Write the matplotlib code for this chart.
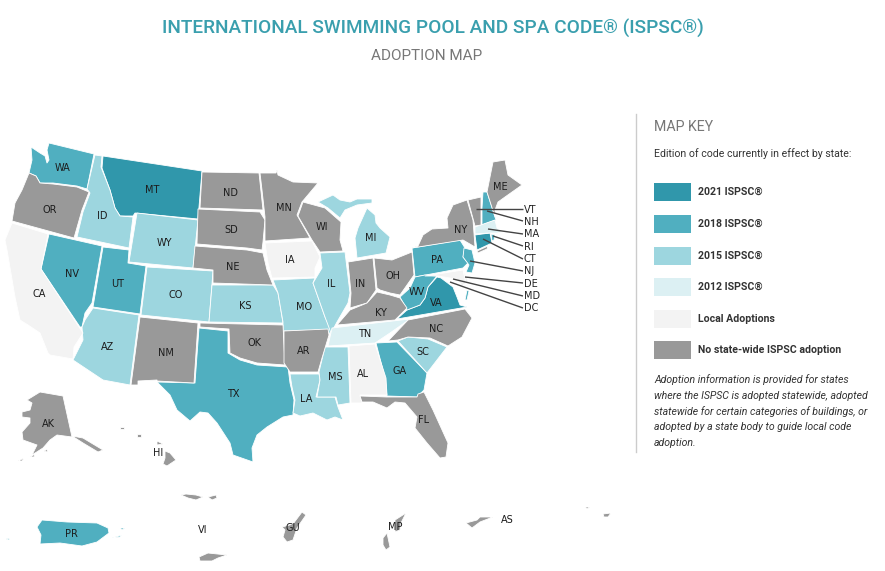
import matplotlib
matplotlib.use("Agg")
import matplotlib.pyplot as plt
from matplotlib.patches import Polygon

TITLE = "INTERNATIONAL SWIMMING POOL AND SPA CODE® (ISPSC®)"
SUBTITLE = "ADOPTION MAP"
KEY_TITLE = "MAP KEY"
KEY_INTRO = "Edition of code currently in effect by state:"
KEY_LABELS = ["2021 ISPSC®", "2018 ISPSC®", "2015 ISPSC®", "2012 ISPSC®", "Local Adoptions", "No state-wide ISPSC adoption"]
KEY_NOTE = ["Adoption information is provided for states", "where the ISPSC is adopted statewide, adopted",
            "statewide for certain categories of buildings, or", "adopted by a state body to guide local code", "adoption."]

ED_2021 = ["MT", "VA", "CT"]
ED_2018 = ["WA", "NV", "UT", "TX", "GA", "PA", "WV", "NH", "NJ", "PR", "RI", "VAES", "PR2", "PR3", "PR4"]
ED_2015 = ["ID", "WY", "CO", "AZ", "KS", "MO", "IL", "MI", "MIU", "LA", "MS", "SC"]
ED_2012 = ["TN", "MA"]
ED_LOCAL = ["CA", "IA", "AL", "MD", "DE"]
ED_NONE = ["OR", "ND", "SD", "NE", "NM", "OK", "AR", "MN", "WI", "IN", "OH", "KY", "NC", "FL", "NY", "NYLI", "VT", "ME",
           "AK", "AKP", "AK1", "AK2", "AK3", "HI", "HI1", "HI2", "HI3", "T1", "T2", "VIB", "GU", "MP", "MP2", "AS", "AS1", "AS2"]

# outlines of the territories
WA = [(31,147),(40,153),(45,156),(47,163),(49,160),(47,150),(49,143),(94,154),(87,189),(77,186),(53,183),(40,183),(36,176),(29,173),(32,160)]
OR = [(29,173),(36,176),(40,183),(53,184),(77,187),(89,192),(82,210),(74,238),(12,221),(15,203),(22,190)]
CA = [(12,223),(48,234),(41,269),(83,333),(74,347),(73,359),(50,355),(48,353),(40,333),(28,325),(20,320),(15,297),(7,250),(5,240)]
NV = [(49,234),(102,246),(92,303),(85,313),(82,327),(80,327),(41,269)]
ID = [(95,155),(102,156),(101,167),(110,190),(115,208),(120,216),(133,217),(129,248),(77,237),(83,212),(90,193),(87,189)]
MT = [(103,156),(202,171),(198,219),(135,213),(133,216),(120,216),(115,208),(110,190),(102,168)]
WY = [(137,213),(198,220),(193,268),(129,262)]
UT = [(103,247),(129,250),(128,263),(146,266),(140,314),(93,307)]
AZ = [(93,308),(139,315),(130,385),(103,380),(73,360),(83,340),(82,327),(85,320)]
CO = [(147,267),(213,271),(209,322),(141,315)]
NM = [(140,317),(198,323),(194,383),(157,381),(157,380),(138,381),(138,385),(131,385)]
TX = [(199,328),(228,331),(228,353),(240,360),(257,365),(288,367),(290,383),(294,400),(293,415),(283,417),(267,427),(257,435),
      (252,448),(253,462),(233,455),(230,443),(217,423),(208,413),(200,412),(190,421),(177,410),(170,395),(157,382),(195,383)]
OK = [(200,323),(283,325),(285,365),(257,363),(240,358),(230,353),(229,329),(200,327)]
KS = [(212,285),(273,285),(278,293),(283,323),(209,322)]
NE = [(195,246),(247,250),(263,253),(267,270),(273,285),(213,283),(213,270),(193,268)]
SD = [(198,209),(260,212),(265,220),(263,242),(262,250),(247,248),(197,244)]
ND = [(202,172),(259,173),(263,210),(200,208)]
MN = [(260,173),(276,173),(277,170),(278,175),(293,182),(318,183),(302,202),(297,215),(310,238),(265,241),(265,217),(262,190)]
IA = [(265,243),(312,241),(320,257),(315,268),(315,277),(272,278),(268,263)]
WI = [(303,202),(325,208),(341,222),(340,240),(343,251),(320,252),(312,240),(298,216)]
IL = [(320,253),(345,252),(350,293),(348,303),(337,322),(331,333),(325,317),(313,283),(322,268)]
MO = [(273,280),(315,278),(313,283),(325,317),(331,330),(333,328),(330,334),(327,330),(283,331),(283,322),(278,293)]
AR = [(284,331),(328,329),(329,335),(322,358),(318,372),(290,372),(284,363)]
LA = [(290,374),(319,374),(320,380),(316,397),(335,397),(338,407),(343,420),(335,417),(327,420),(313,413),(300,416),(293,413),(295,400),(292,387)]
MS = [(325,347),(348,347),(350,403),(338,405),(336,397),(317,397),(320,380),(319,372)]
TN = [(332,328),(410,319),(390,333),(375,343),(328,346)]
AL = [(349,346),(375,344),(386,378),(387,395),(360,395),(362,403),(351,403)]
GA = [(376,343),(397,342),(427,373),(424,390),(417,397),(387,396),(385,378)]
SC = [(398,341),(408,337),(428,339),(447,347),(427,373)]
FL = [(360,396),(387,397),(417,397),(418,394),(424,392),(433,410),(448,443),(446,457),(440,458),(427,443),(415,428),(417,417),(405,403),
      (395,402),(387,408),(373,402),(362,402)]
NC = [(388,341),(408,320),(465,309),(472,318),(462,337),(448,346),(430,338),(408,337),(398,340)]
VA = [(397,319),(407,310),(420,305),(425,298),(428,287),(437,277),(441,278),(453,287),(457,297),(460,305),(467,307)]
VAES = [(467,290),(469,291),(467,300),(465,300)]
WV = [(400,297),(410,288),(415,277),(425,275),(437,276),(428,287),(425,298),(420,305),(407,310)]
PA = [(412,248),(460,240),(465,248),(463,257),(468,263),(463,268),(415,277)]
OH = [(374,258),(392,260),(412,252),(414,275),(400,295),(390,293),(380,290),(377,288)]
IN = [(348,262),(373,258),(376,290),(367,303),(350,308),(351,293)]
KY = [(337,325),(350,310),(367,303),(377,292),(390,295),(400,298),(407,308),(395,320)]
MI = [(357,258),(355,238),(358,228),(367,208),(375,215),(376,223),(380,228),(390,237),(386,253)]
MIU = [(318,202),(333,195),(340,200),(350,202),(357,199),(372,199),(372,203),(357,205),(345,210),(340,218),(328,208)]
NY = [(418,246),(423,235),(432,229),(448,228),(447,218),(453,205),(467,200),(473,220),(475,247),(463,240),(412,248)]
NYLI = [(477,251),(488,246),(487,249),(478,253)]
VT = [(468,200),(481,197),(481,225),(475,226)]
NH = [(483,192),(487,192),(496,220),(482,225),(482,208)]
ME = [(493,162),(505,160),(508,175),(522,185),(505,197),(498,202),(495,210),(495,217),(487,192)]
MA = [(475,227),(495,220),(497,228),(502,232),(497,233),(490,233),(475,234)]
CT = [(475,235),(490,233),(492,243),(477,250)]
RI = [(491,234),(495,235),(494,240),(492,241)]
NJ = [(464,248),(472,250),(475,263),(472,273),(466,272),(469,265),(463,257)]
MD = [(425,276),(463,270),(466,283),(462,286),(458,280),(450,278),(438,276)]
DE = [(463,269),(468,280),(466,283)]
AK = [(27,400),(40,392),(63,396),(72,437),(57,435),(50,440),(43,448),(32,455),(37,445),(23,440),(22,432),(30,423),(30,418),(22,417),(22,412),(30,410),(32,403)]
AKP = [(72,436),(83,438),(103,450),(98,452),(83,443)]
AK1 = [(18,461),(24,458),(22,461)]
AK2 = [(30,457),(35,454),(34,457)]
AK3 = [(44,451),(48,449),(47,452)]
HI = [(165,451),(170,453),(176,460),(167,466),(163,464),(165,458)]
HI1 = [(120,427),(124,427),(124,429),(120,429)]
HI2 = [(137,434),(141,434),(141,437),(137,437)]
HI3 = [(157,441),(163,444),(157,445)]
T1 = [(181,495),(186,494),(196,495),(203,497),(196,500),(188,498)]
T2 = [(208,497),(216,495),(217,498),(212,500)]
PR = [(37,527),(42,520),(67,522),(97,523),(108,528),(109,533),(97,542),(82,546),(60,543),(40,544),(41,535)]
PR2 = [(120,528),(125,528),(122,530)]
PR3 = [(112,538),(122,535),(120,537)]
PR4 = [(6,539),(10,538),(9,540)]
VIB = [(199,557),(208,553),(227,555),(218,558),(212,561),(200,561)]
GU = [(302,512),(306,515),(297,528),(293,540),(287,542),(283,537),(285,530),(282,527),(293,524)]
MP = [(406,513),(401,523),(400,530),(395,532),(395,520)]
MP2 = [(387,533),(390,547),(386,550),(383,545),(383,538)]
AS = [(466,523),(477,520),(480,517),(493,517),(480,522),(472,528)]
AS1 = [(585,507),(590,507),(587,509)]
AS2 = [(603,514),(611,513),(608,517),(604,517)]

# state code labels
LABEL_NAMES = ["WA","MT","ND","MN","ME","OR","ID","WY","SD","WI","MI","NY","CA","NV","UT","CO","NE","IA","IL","IN","OH","PA",
               "WV","VA","KY","KS","MO","AZ","NM","OK","AR","TN","NC","SC","GA","AL","MS","LA","TX","FL","AK","HI","PR","VI","GU","MP","AS"]
LABEL_X = [63,152,231,284,500,50,102,164,231,322,371,461,39,72,118,176,233,290,331,360,393,437,
           417,436,381,245,304,108,166,254,304,365,436,423,400,363,335,306,233,424,48,158,71,203,293,395,507]
LABEL_Y = [168,190,193,208,187,210,216,243,230,227,238,230,294,274,284,295,267,260,284,284,276,260,
           292,303,313,306,307,347,353,343,351,334,329,352,371,374,377,399,394,420,424,453,534,530,528,527,520]
LEADER_NAMES = ["VT","NH","MA","RI","CT","NJ","DE","MD","DC"]
LEADER_STARTS = [(476,209),(487,211),(488,229),(493,236),(483,239),(470,261),(465,277),(453,279),(450,282)]
LEADER_ENDS = [(523,209),(523,221),(523,234),(523,246),(523,259),(523,271),(523,283),(523,296),(523,308)]
LEADER_Y = [210,222,234,247,259,271,284,296,308]

EDITION_GROUPS = [ED_2021, ED_2018, ED_2015, ED_2012, ED_LOCAL, ED_NONE]
COLORS = ["#3097ab", "#50afc0", "#9dd6df", "#dcf0f3", "#f3f3f3", "#999999"]

fig = plt.figure(figsize=(8.85, 5.71), dpi=100)
ax = fig.add_axes([0, 0, 1, 1])
ax.set_xlim(0, 885)
ax.set_ylim(571, 0)
ax.axis("off")

shapes = globals()
for group, color in zip(EDITION_GROUPS, COLORS):
    for code in group:
        ax.add_patch(Polygon(shapes[code], closed=True, facecolor=color, edgecolor="white", linewidth=0.6, joinstyle="round"))

for n, x, y in zip(LABEL_NAMES, LABEL_X, LABEL_Y):
    ax.text(x, y, n, ha="center", va="center", fontsize=7.0, color="#1c1c1c", family="DejaVu Sans")
for n, a, b, y in zip(LEADER_NAMES, LEADER_STARTS, LEADER_ENDS, LEADER_Y):
    ax.plot([a[0], b[0]], [a[1], b[1]], color="#444444", lw=1.0, solid_capstyle="butt")
    ax.text(524, y, n, ha="left", va="center", fontsize=7.0, color="#222222", family="DejaVu Sans")

ax.text(433, 28, TITLE, ha="center", va="center", fontsize=13.7, color="#3a9fae", family="Roboto", fontweight="medium")
ax.text(427, 56, SUBTITLE, ha="center", va="center", fontsize=11, color="#777777", family="Roboto")

ax.plot([636, 636], [114, 452], color="#cccccc", lw=1)
ax.text(654, 127, KEY_TITLE, ha="left", va="center", fontsize=10.2, color="#777777", family="Roboto")
ax.text(654, 154, KEY_INTRO, ha="left", va="center", fontsize=7.6, color="#333333", family="Roboto")
key_y = [192, 223.5, 255.5, 287, 318.5, 350]
for y, lab, col in zip(key_y, KEY_LABELS, COLORS):
    ax.add_patch(Polygon([(654, y-9), (691, y-9), (691, y+9), (654, y+9)], closed=True, facecolor=col, edgecolor="none"))
    ax.text(698, y, lab, ha="left", va="center", fontsize=7.6, color="#333333", family="Roboto", fontweight="bold")
for y, line in zip([380, 396, 412, 427, 443], KEY_NOTE):
    ax.text(654, y, line, ha="left", va="center", fontsize=7.6, color="#333333", family="Roboto", style="italic")

fig.savefig("out.png", dpi=100, facecolor="white")
